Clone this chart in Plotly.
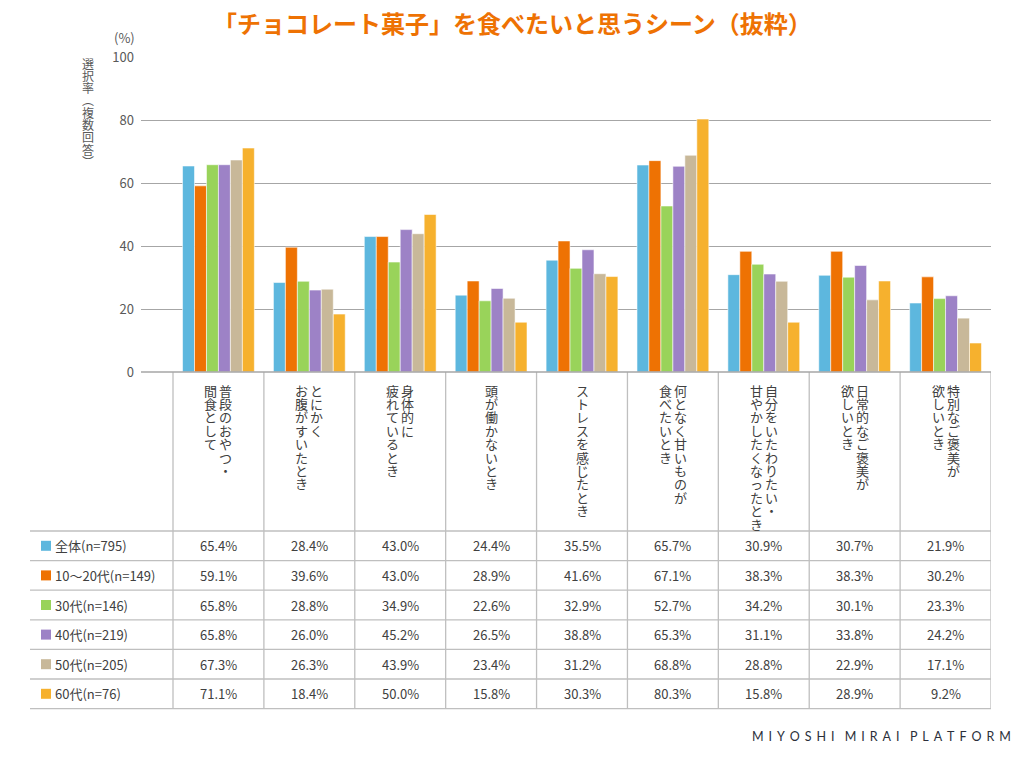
import plotly.graph_objects as go

# ---------------- data ----------------
categories = [
    "普段のおやつ・\n間食として",
    "とにかく\nお腹がすいたとき",
    "身体的に\n疲れているとき",
    "頭が働かないとき",
    "ストレスを感じたとき",
    "何となく甘いものが\n食べたいとき",
    "自分をいたわりたい・\n甘やかしたくなったとき",
    "日常的なご褒美が\n欲しいとき",
    "特別なご褒美が\n欲しいとき",
]
series_names = ["全体(n=795)", "10〜20代(n=149)", "30代(n=146)",
                "40代(n=219)", "50代(n=205)", "60代(n=76)"]
v_all = [65.4, 28.4, 43.0, 24.4, 35.5, 65.7, 30.9, 30.7, 21.9]
v_1020 = [59.1, 39.6, 43.0, 28.9, 41.6, 67.1, 38.3, 38.3, 30.2]
v_30 = [65.8, 28.8, 34.9, 22.6, 32.9, 52.7, 34.2, 30.1, 23.3]
v_40 = [65.8, 26.0, 45.2, 26.5, 38.8, 65.3, 31.1, 33.8, 24.2]
v_50 = [67.3, 26.3, 43.9, 23.4, 31.2, 68.8, 28.8, 22.9, 17.1]
v_60 = [71.1, 18.4, 50.0, 15.8, 30.3, 80.3, 15.8, 28.9, 9.2]
series_values = [v_all, v_1020, v_30, v_40, v_50, v_60]
colors = ["#5DB7DE", "#EE7203", "#99D35A", "#9D82C6", "#C8B899", "#F6B12E"]
y_ticks = [0, 20, 40, 60, 80, 100]
title_text = "「チョコレート菓子」を食べたいと思うシーン（抜粋）"
y_title = "選択率︵複数回答︶"
unit_text = "(%)"
footer_text = "MIYOSHI MIRAI PLATFORM"

# ---------------- layout helpers ----------------
W = 1024
H = 757
FONT = "Noto Sans CJK JP"
TXT = "#404040"
GRID = "#A6A6A6"
TLINE = "#BFBFBF"


def py(y):
    return 1 - y / H


def px(x):
    return x / W


n = len(categories)
x_idx = list(range(n))

fig = go.Figure()
for name, vals, col in zip(series_names, series_values, colors):
    fig.add_trace(go.Bar(
        x=x_idx, y=vals, name=name,
        marker=dict(color=col, line=dict(color="rgba(255,255,255,0.55)", width=1)),
        hoverinfo="y+name",
    ))

annotations = []
shapes = []

# title
annotations.append(dict(text=title_text, x=0.5, y=py(22), xref="paper", yref="paper",
                        showarrow=False, xanchor="center", yanchor="middle",
                        font=dict(family=FONT, size=24, color="#EE7203", weight="bold")))
# unit
annotations.append(dict(text=unit_text, x=px(124), y=py(38), xref="paper", yref="paper",
                        showarrow=False, xanchor="center", yanchor="middle",
                        font=dict(family=FONT, size=13, color="#595959")))
# vertical y-axis title
for k, ch in enumerate(y_title):
    annotations.append(dict(text=ch, x=px(88), y=py(63 + k * 12.3), xref="paper", yref="paper",
                            showarrow=False, xanchor="center", yanchor="middle",
                            font=dict(family=FONT, size=12, color="#595959")))

# vertical category labels (right column first)
PITCH = 13.4
COL_OFF = 0.083
for i, lab in enumerate(categories):
    cols = lab.split("\n")
    m = len(cols)
    for c, txt in enumerate(cols):
        off = 0 if m == 1 else (COL_OFF if c == 0 else -COL_OFF)
        for k, ch in enumerate(txt):
            annotations.append(dict(text=ch, x=i + off, y=py(390 + k * PITCH),
                                    xref="x", yref="paper", showarrow=False,
                                    xanchor="center", yanchor="middle",
                                    font=dict(family=FONT, size=13, color=TXT)))

# table
row_top = 531
row_h = 29.6
nrows = len(series_names)
for r in range(nrows + 1):
    y = row_top + r * row_h
    shapes.append(dict(type="line", xref="paper", yref="paper", x0=px(30), x1=px(991),
                       y0=py(y), y1=py(y), line=dict(color=TLINE, width=1.3)))
for i in range(n + 1):
    shapes.append(dict(type="line", xref="x", yref="paper", x0=i - 0.5, x1=i - 0.5,
                       y0=py(372), y1=py(row_top + nrows * row_h),
                       line=dict(color=TLINE, width=1.3)))
for r, (name, vals, col) in enumerate(zip(series_names, series_values, colors)):
    yc = row_top + (r + 0.5) * row_h
    shapes.append(dict(type="rect", xref="paper", yref="paper", x0=px(41), x1=px(51),
                       y0=py(yc - 5), y1=py(yc + 5), fillcolor=col, line=dict(width=0)))
    annotations.append(dict(text=name, x=px(53), y=py(yc), xref="paper", yref="paper",
                            showarrow=False, xanchor="left", yanchor="middle",
                            font=dict(family=FONT, size=13, color=TXT)))
    for i, v in enumerate(vals):
        annotations.append(dict(text=f"{v:.1f}%", x=i, y=py(yc), xref="x", yref="paper",
                                showarrow=False, xanchor="center", yanchor="middle",
                                font=dict(family=FONT, size=13, color=TXT)))

# footer
spaced = "\u2002\u2004".join("\u2004\u200a".join(list(w)) for w in footer_text.split(" "))
annotations.append(dict(text=spaced, x=px(1013), y=py(736), xref="paper", yref="paper",
                        showarrow=False, xanchor="right", yanchor="middle",
                        font=dict(family="Lato", size=12.5, color="#2B2F3A")))

# x-axis baseline
shapes.append(dict(type="line", xref="paper", yref="paper", x0=px(141), x1=px(991),
                   y0=py(372), y1=py(372), line=dict(color=GRID, width=1.3)))

left_edge = -0.5 - (173 - 141) / ((991 - 173) / n)

fig.update_layout(
    width=W, height=H, autosize=False,
    margin=dict(l=0, r=0, t=0, b=0, pad=0, autoexpand=False),
    paper_bgcolor="white", plot_bgcolor="white",
    barmode="group", bargap=0.21, bargroupgap=0,
    showlegend=False,
    font=dict(family=FONT, color=TXT),
    xaxis=dict(domain=[px(141), px(991)], range=[left_edge, n - 0.5], automargin=False,
               showticklabels=False, showgrid=False, zeroline=False,
               showline=False, ticks="", fixedrange=True),
    yaxis=dict(domain=[py(372), py(57)], range=[0, 100], tickvals=y_ticks, automargin=False,
               showgrid=True, gridcolor=GRID, gridwidth=1, zeroline=False,
               showline=False, ticks="", ticklabelstandoff=6,
               tickfont=dict(family=FONT, size=13, color="#595959"), fixedrange=True),
    annotations=annotations,
    shapes=shapes,
)

fig.write_html("out.html", config={"displayModeBar": False},
               post_script="document.body.style.margin='0';")
